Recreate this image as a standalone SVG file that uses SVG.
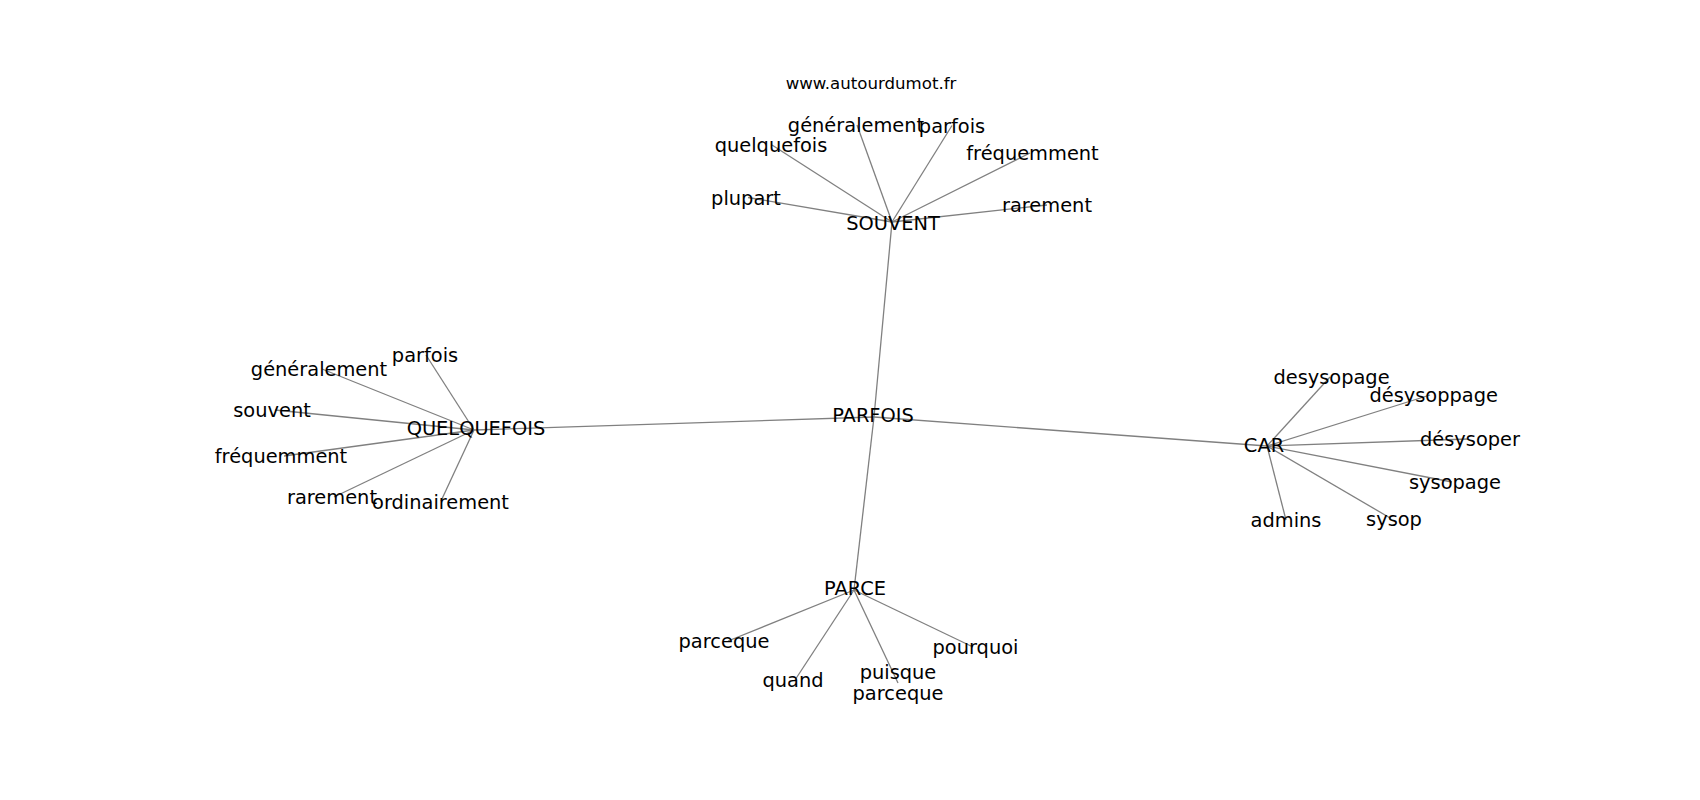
<svg xmlns="http://www.w3.org/2000/svg" width="1700" height="800" viewBox="0 0 1700 800">
<style>
.e{stroke:#808080;stroke-width:1.3;fill:none}
text{font-family:"DejaVu Sans","Liberation Sans",sans-serif;font-size:19.4px;fill:#000;text-anchor:middle}
.t{font-size:16.6px}
</style>
<rect width="1700" height="800" fill="#fff"/>
<g id="connectors">
<line class="e" x1="874" y1="417" x2="892" y2="222"/>
<line class="e" x1="874" y1="417" x2="474" y2="430"/>
<line class="e" x1="874" y1="417" x2="1267" y2="446"/>
<line class="e" x1="874" y1="417" x2="854" y2="590"/>
<line class="e" x1="892" y1="222" x2="857" y2="125"/>
<line class="e" x1="892" y1="222" x2="952" y2="125.5"/>
<line class="e" x1="892" y1="222" x2="772" y2="145"/>
<line class="e" x1="892" y1="222" x2="1030" y2="153"/>
<line class="e" x1="892" y1="222" x2="748" y2="197.5"/>
<line class="e" x1="892" y1="222" x2="1047" y2="205"/>
<line class="e" x1="474" y1="430" x2="426" y2="355"/>
<line class="e" x1="474" y1="430" x2="322" y2="369"/>
<line class="e" x1="474" y1="430" x2="275" y2="410"/>
<line class="e" x1="474" y1="430" x2="284" y2="456"/>
<line class="e" x1="474" y1="430" x2="334" y2="497"/>
<line class="e" x1="474" y1="430" x2="441" y2="501"/>
<line class="e" x1="1267" y1="446" x2="1330" y2="377"/>
<line class="e" x1="1267" y1="446" x2="1430" y2="395"/>
<line class="e" x1="1267" y1="446" x2="1468" y2="439"/>
<line class="e" x1="1267" y1="446" x2="1452" y2="482"/>
<line class="e" x1="1267" y1="446" x2="1391" y2="518.5"/>
<line class="e" x1="1267" y1="446" x2="1286" y2="520"/>
<line class="e" x1="854" y1="590" x2="728" y2="641"/>
<line class="e" x1="854" y1="590" x2="795" y2="680"/>
<line class="e" x1="854" y1="590" x2="898" y2="683"/>
<line class="e" x1="854" y1="590" x2="973" y2="647"/>
</g>
<text class="t" x="871" y="88.5">www.autourdumot.fr</text>
<g id="n-parfois-center"><text x="873" y="422">PARFOIS</text></g>
<g id="n-souvent"><text x="893" y="229.5">SOUVENT</text></g>
<g id="n-quelquefois"><text x="476" y="435">QUELQUEFOIS</text></g>
<g id="n-car"><text x="1264" y="452">CAR</text></g>
<g id="n-parce"><text x="855" y="594.5">PARCE</text></g>
<g id="n-s-generalement"><text x="856" y="132">généralement</text></g>
<g id="n-s-parfois"><text x="952" y="132.5">parfois</text></g>
<g id="n-s-quelquefois"><text x="771" y="152">quelquefois</text></g>
<g id="n-s-frequemment"><text x="1032.5" y="159.5">fréquemment</text></g>
<g id="n-s-plupart"><text x="746" y="204.5">plupart</text></g>
<g id="n-s-rarement"><text x="1047" y="212">rarement</text></g>
<g id="n-q-parfois"><text x="425" y="361.5">parfois</text></g>
<g id="n-q-generalement"><text x="319" y="375.5">généralement</text></g>
<g id="n-q-souvent"><text x="272" y="416.5">souvent</text></g>
<g id="n-q-frequemment"><text x="281" y="463">fréquemment</text></g>
<g id="n-q-rarement"><text x="332" y="503.5">rarement</text></g>
<g id="n-q-ordinairement"><text x="440.5" y="508.5">ordinairement</text></g>
<g id="n-c-desysopage"><text x="1331.5" y="383.5">desysopage</text></g>
<g id="n-c-desysoppage"><text x="1433.7" y="401.5">désysoppage</text></g>
<g id="n-c-desysoper"><text x="1470" y="445.5">désysoper</text></g>
<g id="n-c-sysopage"><text x="1455" y="488.5">sysopage</text></g>
<g id="n-c-sysop"><text x="1394" y="525.5">sysop</text></g>
<g id="n-c-admins"><text x="1286" y="527">admins</text></g>
<g id="n-p-parceque"><text x="724" y="647.5">parceque</text></g>
<g id="n-p-quand"><text x="793" y="687">quand</text></g>
<g id="n-p-puisque"><text x="898" y="678.5">puisque</text><text x="898" y="700">parceque</text></g>
<g id="n-p-pourquoi"><text x="975.5" y="653.5">pourquoi</text></g>
</svg>
